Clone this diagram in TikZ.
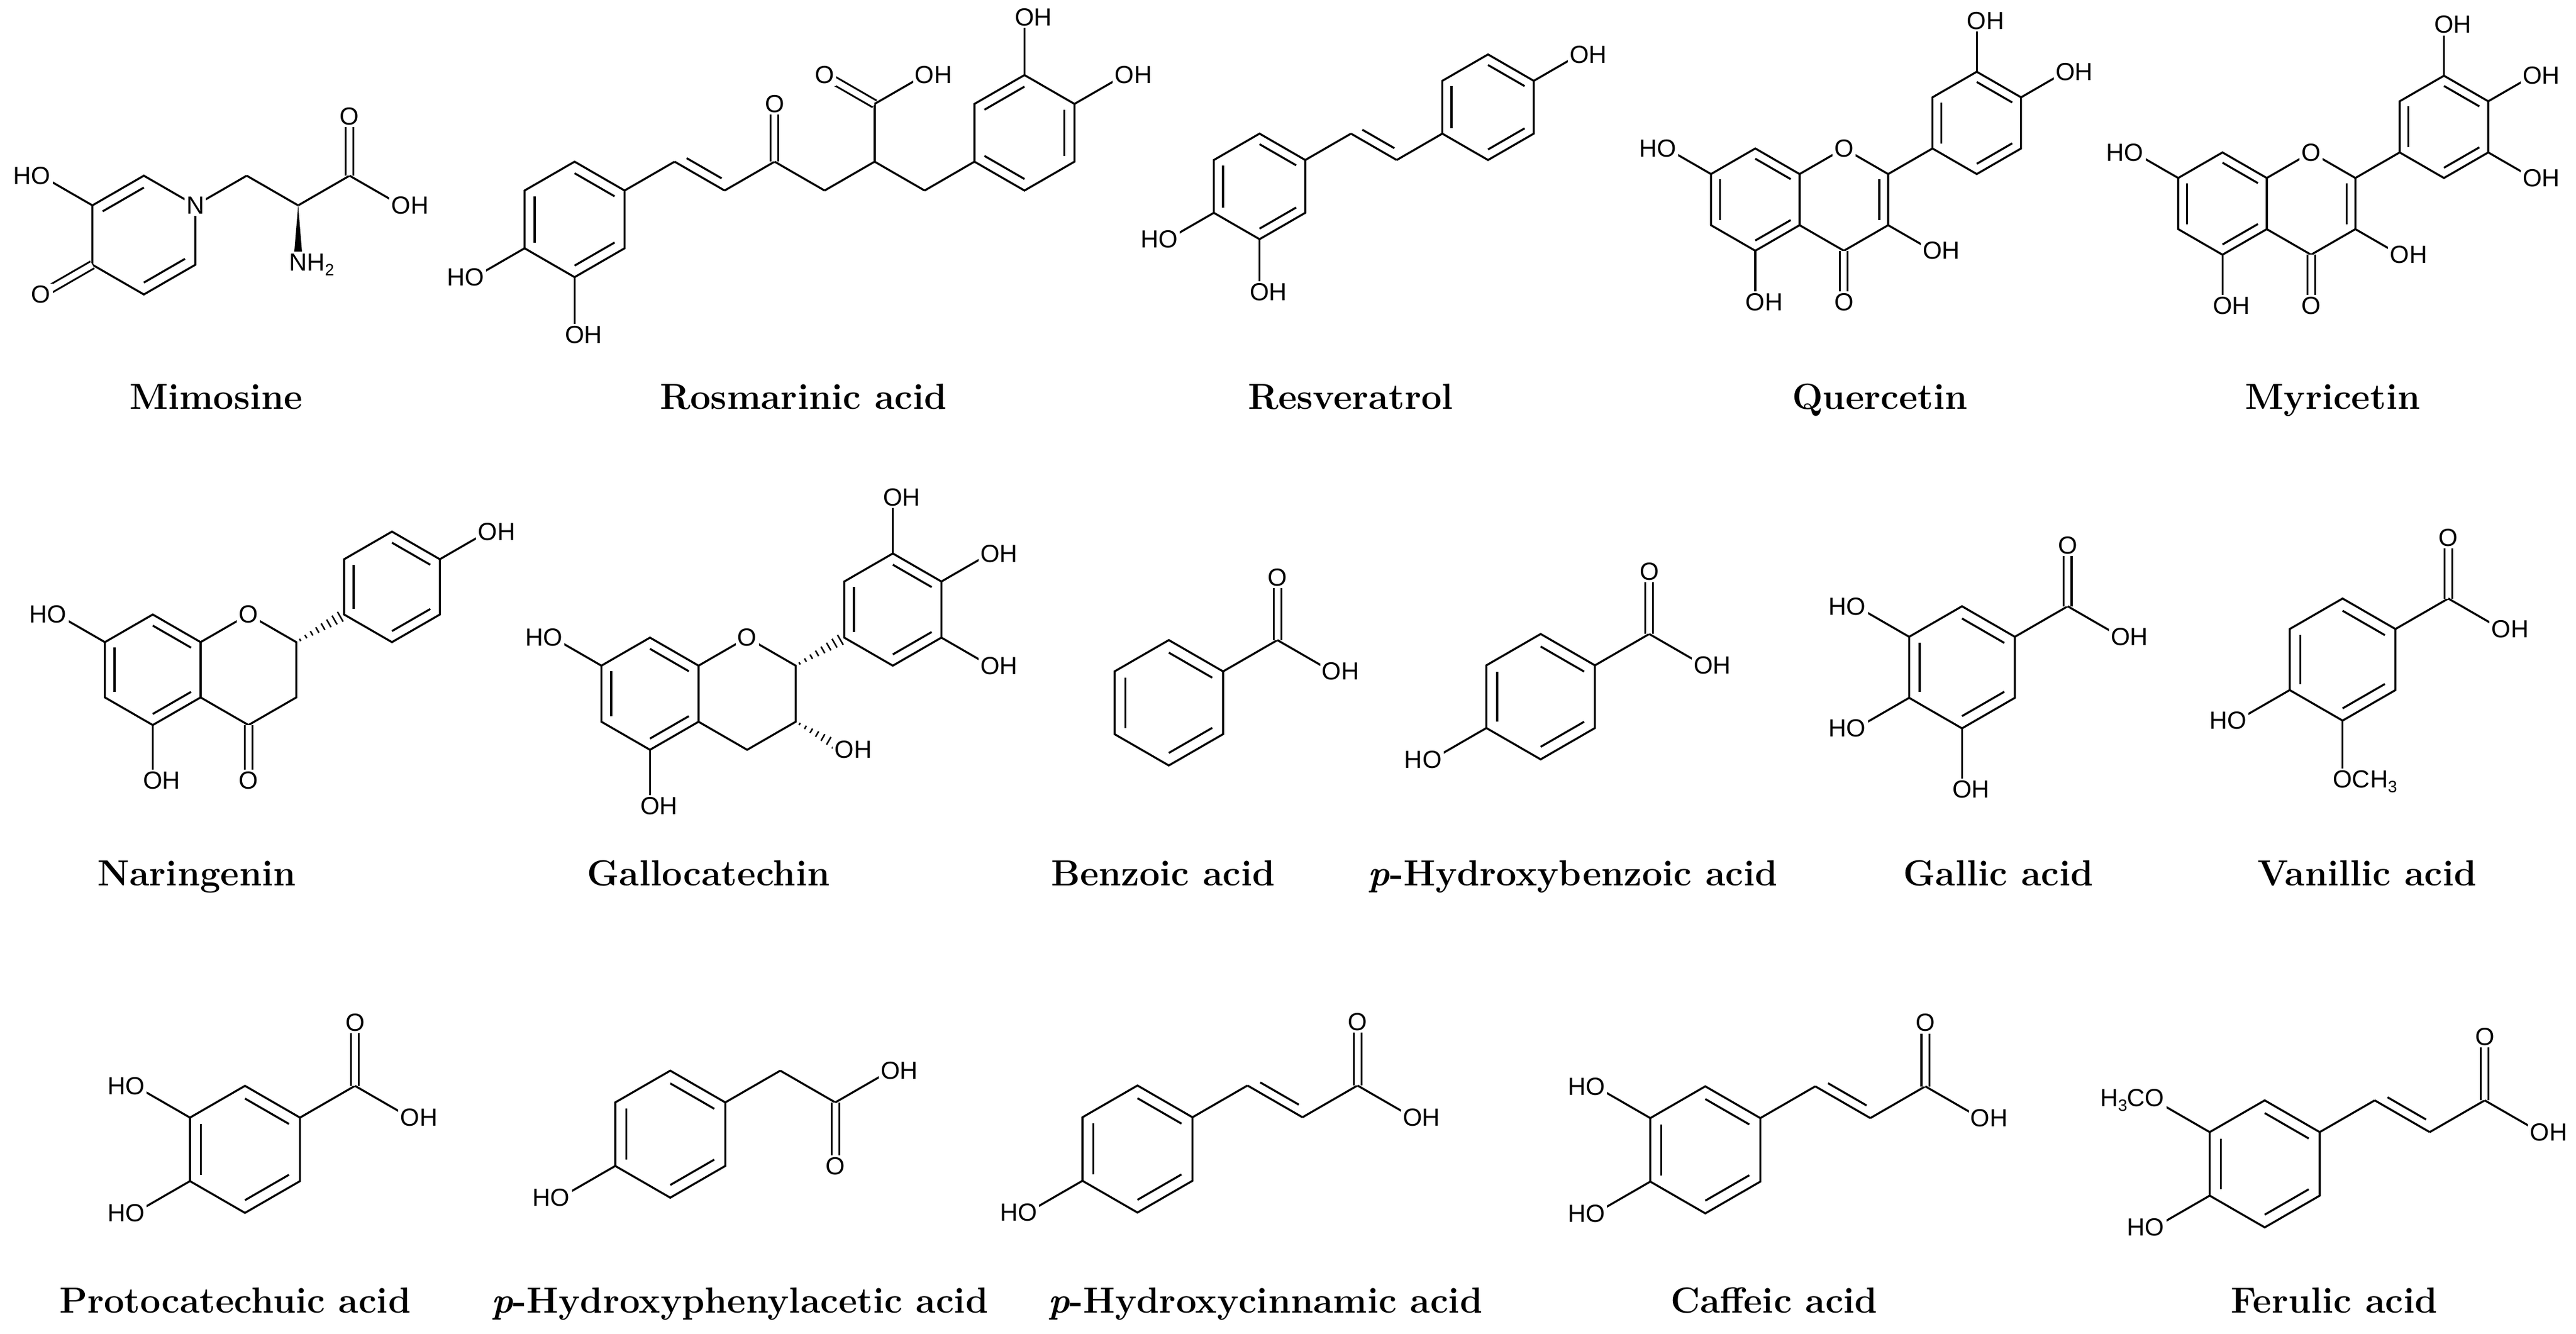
\documentclass[tikz,border=0pt]{standalone}
\usepackage{fontspec}
\newfontfamily\labfont{Liberation Sans}
\usetikzlibrary{calc}
\tikzset{
 bond/.style={line width=1.2pt, line join=miter},
 dbond/.style={double, double distance=3.6pt, line width=1.1pt},
 lbl/.style={font=\labfont\fontsize{15}{15}\selectfont, fill=white, inner sep=1.2pt},
 cname/.style={font=\bfseries\fontsize{22}{22}\selectfont, anchor=base}
}
\newcommand\hexring[4]{%
 \coordinate (#1cen) at (#2,#3);
 \foreach \i/\a in {1/90,2/30,3/-30,4/-90,5/-150,6/150}{\coordinate (#1\i) at ($(#1cen)+(\a:#4pt)$);}
 \draw[bond] (#11)--(#12)--(#13)--(#14)--(#15)--(#16)--cycle;}
\newcommand\inb[3]{\draw[bond] ($(#1cen)!0.8!(#1#2)$) -- ($(#1cen)!0.8!(#1#3)$);}
\newcommand\atm[4]{\coordinate (#1) at ($(#2)+(#3:#4pt)$);}
\newcommand\bnd[2]{\draw[bond] (#1) -- (#2);}
\newcommand\chdbl[4]{%
 \coordinate (tA) at ($(#1)!0.15!(#2)$); \coordinate (tB) at ($(#1)!0.85!(#2)$);
 \draw[bond] ($(tA)!5.5pt!#3:(tB)$) -- ($(tB)!5.5pt!#4:(tA)$);}
\newcommand\hashb[2]{%
 \foreach \t in {0.08,0.2,0.32,0.44,0.56,0.68,0.8,0.92}{%
  \pgfmathsetmacro\w{0.5+3.2*\t}
  \coordinate (hp) at ($(#1)!\t!(#2)$);
  \draw[line width=0.9pt] ($(hp)!\w pt!90:(#2)$) -- ($(hp)!\w pt!-90:(#2)$);}}
\newcommand\subst[5]{\atm{#1}{#2}{#3}{#4}\bnd{#2}{#1}\node[lbl] (#1l) at (#1) {#5};}
\newcommand\acid[3]{\atm{#1C}{#2}{30}{#3}\atm{#1O}{#1C}{90}{#3}\atm{#1H}{#1C}{-30}{#3}%
 \bnd{#2}{#1C}\draw[dbond] (#1C)--(#1O);\bnd{#1C}{#1H}%
 \node[lbl] (#1Ol) at (#1O) {O};\node[lbl] (#1Hl) at (#1H) {O\rlap{H}};}
\newcommand\cinn[3]{\atm{#1a}{#2}{30}{#3}\atm{#1b}{#1a}{-30}{#3}\bnd{#2}{#1a}\bnd{#1a}{#1b}%
 \chdbl{#1a}{#1b}{90}{-90}\acid{#1}{#1b}{#3}}
\newcommand\ksub[1]{{\fontsize{10}{10}\selectfont\raisebox{-3pt}{#1}}}
\newcommand\HO{\llap{H}O}
\newcommand\OH{O\rlap{H}}
\begin{document}
\begin{tikzpicture}[x=1pt,y=-1pt]
\fill[white] (0,0) rectangle (1561.5,808.3);
\useasboundingbox (0,0) rectangle (1561.5,808.3);

% ---------- Mimosine ----------
\hexring{mi}{87.2}{142.5}{36}
\inb{mi}{6}{1}\inb{mi}{3}{4}
\atm{miO4}{mi5}{-150}{36}\draw[dbond] (mi5)--(miO4);
\atm{miCH}{mi2}{30}{36}\atm{miCa}{miCH}{-30}{36}\atm{miCC}{miCa}{30}{36}
\atm{miO}{miCC}{90}{36}\atm{miOH}{miCC}{-30}{36}\atm{miN2}{miCa}{-90}{36}
\bnd{mi2}{miCH}\bnd{miCH}{miCa}\bnd{miCa}{miCC}\draw[dbond] (miCC)--(miO);\bnd{miCC}{miOH}
\fill (miCa) -- ($(miN2)!3pt!90:(miCa)$) -- ($(miN2)!3pt!-90:(miCa)$) -- cycle;
\subst{miO3}{mi6}{150}{36}{\HO}
\node[lbl] (miNl) at (mi2) {N};
\node[lbl] (miO4l) at (miO4) {O};
\node[lbl] (miOl) at (miO) {O};
\node[lbl] (miOHl) at (miOH) {\OH};
\node[lbl] (miN2l) at (miN2) {N\rlap{H\ksub{2}}};
\node[cname] (nmi) at (131,248) {Mimosine};

% ---------- Rosmarinic acid ----------
\hexring{ra}{348.3}{133}{35}
\inb{ra}{1}{2}\inb{ra}{3}{4}\inb{ra}{5}{6}
\atm{raa}{ra2}{30}{35}\atm{rab}{raa}{-30}{35}\atm{rac}{rab}{30}{35}\atm{rak}{rac}{90}{35}
\atm{rad}{rac}{-30}{35}\atm{rae}{rad}{30}{35}\atm{raf}{rae}{90}{35}
\atm{rafO}{raf}{150}{35}\atm{rafH}{raf}{30}{35}\atm{rag}{rae}{-30}{35}
\bnd{ra2}{raa}\bnd{raa}{rab}\chdbl{raa}{rab}{90}{-90}\bnd{rab}{rac}\draw[dbond] (rac)--(rak);
\bnd{rac}{rad}\bnd{rad}{rae}\bnd{rae}{raf}\draw[dbond] (raf)--(rafO);\bnd{raf}{rafH}\bnd{rae}{rag}
\hexring{rb}{621.0}{80.5}{35}
\inb{rb}{2}{3}\inb{rb}{4}{5}\inb{rb}{6}{1}
\bnd{rag}{rb5}
\subst{raO4}{ra4}{-90}{35}{\OH}
\subst{raO5}{ra5}{-150}{35}{\HO}
\subst{rbO1}{rb1}{90}{35}{\OH}
\subst{rbO2}{rb2}{30}{35}{\OH}
\node[lbl] (rakl) at (rak) {O};
\node[lbl] (rafOl) at (rafO) {O};
\node[lbl] (rafHl) at (rafH) {\OH};
\node[cname] (nra) at (487,248) {Rosmarinic acid};

% ---------- Resveratrol ----------
\hexring{rs}{763.5}{113}{32}
\inb{rs}{1}{2}\inb{rs}{3}{4}\inb{rs}{5}{6}
\atm{rsa}{rs2}{30}{32}\atm{rsb}{rsa}{-30}{32}
\bnd{rs2}{rsa}\bnd{rsa}{rsb}\chdbl{rsa}{rsb}{90}{-90}
\hexring{rt}{902}{65}{32}
\inb{rt}{1}{2}\inb{rt}{3}{4}\inb{rt}{5}{6}
\bnd{rsb}{rt5}
\subst{rtO}{rt2}{30}{32}{\OH}
\subst{rsO5}{rs5}{-150}{32}{\HO}
\subst{rsO4}{rs4}{-90}{32}{\OH}
\node[cname] (nrs) at (818.7,248) {Resveratrol};

% ---------- Quercetin ----------
\hexring{qa}{1064}{121}{31}
\hexring{qc}{1117.7}{121}{31}
\inb{qa}{1}{2}\inb{qa}{3}{4}\inb{qa}{5}{6}\inb{qc}{2}{3}
\hexring{qb}{1198.25}{74.5}{31}
\inb{qb}{1}{2}\inb{qb}{3}{4}\inb{qb}{5}{6}
\bnd{qc2}{qb5}
\atm{qcO4}{qc4}{-90}{31}\draw[dbond] (qc4)--(qcO4);
\node[lbl] (qcO4l) at (qcO4) {O};
\node[lbl] (qcO1l) at (qc1) {O};
\subst{qbO1}{qb1}{90}{31}{\OH}
\subst{qbO2}{qb2}{30}{31}{\OH}
\subst{qcO3}{qc3}{-30}{31}{\OH}
\subst{qaO6}{qa6}{150}{31}{\HO}
\subst{qaO4}{qa4}{-90}{31}{\OH}
\node[cname] (nqu) at (1139.5,248) {Quercetin};

% ---------- Myricetin ----------
\hexring{ma}{1347.2}{123.4}{31}
\hexring{mc}{1400.9}{123.4}{31}
\inb{ma}{1}{2}\inb{ma}{3}{4}\inb{ma}{5}{6}\inb{mc}{2}{3}
\hexring{mb}{1481.45}{76.9}{31}
\inb{mb}{1}{2}\inb{mb}{3}{4}\inb{mb}{5}{6}
\bnd{mc2}{mb5}
\atm{mcO4}{mc4}{-90}{31}\draw[dbond] (mc4)--(mcO4);
\node[lbl] (mcO4l) at (mcO4) {O};
\node[lbl] (mcO1l) at (mc1) {O};
\subst{mbO1}{mb1}{90}{31}{\OH}
\subst{mbO2}{mb2}{30}{31}{\OH}
\subst{mbO3}{mb3}{-30}{31}{\OH}
\subst{mcO3}{mc3}{-30}{31}{\OH}
\subst{maO6}{ma6}{150}{31}{\HO}
\subst{maO4}{ma4}{-90}{31}{\OH}
\node[cname] (nmy) at (1414,248) {Myricetin};

% ---------- Naringenin ----------
\hexring{na}{92.6}{406}{33.5}
\hexring{nc}{150.6}{406}{33.5}
\inb{na}{1}{2}\inb{na}{3}{4}\inb{na}{5}{6}
\hexring{nb}{237.6}{355.75}{33.5}
\inb{nb}{1}{2}\inb{nb}{3}{4}\inb{nb}{5}{6}
\hashb{nc2}{nb5}
\atm{ncO4}{nc4}{-90}{33.5}\draw[dbond] (nc4)--(ncO4);
\node[lbl] (ncO4l) at (ncO4) {O};
\node[lbl] (ncO1l) at (nc1) {O};
\subst{nbO}{nb2}{30}{33.5}{\OH}
\subst{naO6}{na6}{150}{33.5}{\HO}
\subst{naO4}{na4}{-90}{33.5}{\OH}
\node[cname] (nna) at (119.3,537) {Naringenin};

% ---------- Gallocatechin ----------
\hexring{ga}{394}{420.5}{34}
\hexring{gc}{452.9}{420.5}{34}
\inb{ga}{1}{2}\inb{ga}{3}{4}\inb{ga}{5}{6}
\hexring{gb}{541.2}{369.5}{34}
\inb{gb}{1}{2}\inb{gb}{3}{4}\inb{gb}{5}{6}
\hashb{gc2}{gb5}
\atm{gcO3}{gc3}{-30}{34}\hashb{gc3}{gcO3}
\node[lbl] (gcO3l) at (gcO3) {\OH};
\node[lbl] (gcO1l) at (gc1) {O};
\subst{gbO1}{gb1}{90}{34}{\OH}
\subst{gbO2}{gb2}{30}{34}{\OH}
\subst{gbO3}{gb3}{-30}{34}{\OH}
\subst{gaO6}{ga6}{150}{34}{\HO}
\subst{gaO4}{ga4}{-90}{34}{\OH}
\node[cname] (nga) at (429.5,537) {Gallocatechin};

% ---------- Benzoic acid ----------
\hexring{bz}{708.5}{426}{38}
\inb{bz}{1}{2}\inb{bz}{3}{4}\inb{bz}{5}{6}
\acid{bzx}{bz2}{38}
\node[cname] (nbz) at (705,537) {Benzoic acid};

% ---------- p-Hydroxybenzoic acid ----------
\hexring{ph}{933.9}{422.3}{38}
\inb{ph}{1}{2}\inb{ph}{3}{4}\inb{ph}{5}{6}
\acid{phx}{ph2}{38}
\subst{phO5}{ph5}{-150}{38}{\HO}
\node[cname] (nph) at (953.5,537) {\textit{p}-Hydroxybenzoic acid};

% ---------- Gallic acid ----------
\hexring{gl}{1189.3}{404.5}{37}
\inb{gl}{1}{2}\inb{gl}{3}{4}\inb{gl}{5}{6}
\acid{glx}{gl2}{37}
\subst{glO6}{gl6}{150}{37}{\HO}
\subst{glO5}{gl5}{-150}{37}{\HO}
\subst{glO4}{gl4}{-90}{37}{\OH}
\node[cname] (ngl) at (1211.4,537) {Gallic acid};

% ---------- Vanillic acid ----------
\hexring{va}{1420}{399.8}{37}
\inb{va}{1}{2}\inb{va}{3}{4}\inb{va}{5}{6}
\acid{vax}{va2}{37}
\subst{vaO5}{va5}{-150}{37}{\HO}
\subst{vaO4}{va4}{-90}{37}{O\rlap{CH\ksub{3}}}
\node[cname] (nva) at (1434.9,537) {Vanillic acid};

% ---------- Protocatechuic acid ----------
\hexring{pc}{148.5}{696.7}{38.5}
\inb{pc}{1}{2}\inb{pc}{3}{4}\inb{pc}{5}{6}
\acid{pcx}{pc2}{38.5}
\subst{pcO6}{pc6}{150}{38.5}{\HO}
\subst{pcO5}{pc5}{-150}{38.5}{\HO}
\node[cname] (npc) at (142.5,796) {Protocatechuic acid};

% ---------- p-Hydroxyphenylacetic acid ----------
\hexring{pa}{406.3}{687.5}{38.5}
\inb{pa}{1}{2}\inb{pa}{3}{4}\inb{pa}{5}{6}
\atm{paxa}{pa2}{30}{38.5}\atm{paxC}{paxa}{-30}{38.5}\atm{paxO}{paxC}{-90}{38.5}\atm{paxH}{paxC}{30}{38.5}
\bnd{pa2}{paxa}\bnd{paxa}{paxC}\draw[dbond] (paxC)--(paxO);\bnd{paxC}{paxH}
\node[lbl] (paxOl) at (paxO) {O};
\node[lbl] (paxHl) at (paxH) {\OH};
\subst{paO5}{pa5}{-150}{38.5}{\HO}
\node[cname] (npa) at (448.5,796) {\textit{p}-Hydroxyphenylacetic acid};

% ---------- p-Hydroxycinnamic acid ----------
\hexring{pn}{689.5}{696.5}{38.5}
\inb{pn}{1}{2}\inb{pn}{3}{4}\inb{pn}{5}{6}
\cinn{pnx}{pn2}{38.5}
\subst{pnO5}{pn5}{-150}{38.5}{\HO}
\node[cname] (npn) at (767,796) {\textit{p}-Hydroxycinnamic acid};

% ---------- Caffeic acid ----------
\hexring{cf}{1033.7}{697}{38.5}
\inb{cf}{1}{2}\inb{cf}{3}{4}\inb{cf}{5}{6}
\cinn{cfx}{cf2}{38.5}
\subst{cfO6}{cf6}{150}{38.5}{\HO}
\subst{cfO5}{cf5}{-150}{38.5}{\HO}
\node[cname] (ncf) at (1075.4,796) {Caffeic acid};

% ---------- Ferulic acid ----------
\hexring{fe}{1372.8}{705.5}{38.5}
\inb{fe}{1}{2}\inb{fe}{3}{4}\inb{fe}{5}{6}
\cinn{fex}{fe2}{38.5}
\subst{feO6}{fe6}{150}{38.5}{\llap{H\ksub{3}C}O}
\subst{feO5}{fe5}{-150}{38.5}{\HO}
\node[cname] (nfe) at (1414.9,796) {Ferulic acid};
\end{tikzpicture}
\end{document}
